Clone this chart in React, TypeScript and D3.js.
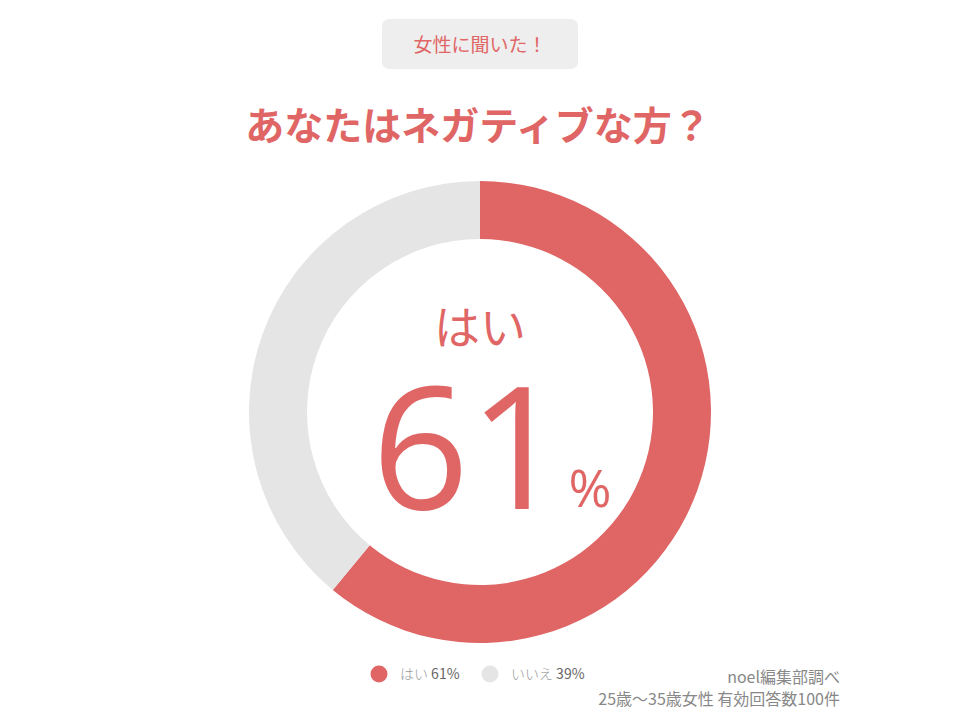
import React, { useEffect, useRef } from 'react';
import * as d3 from 'd3';

const categories = ['はい', 'いいえ'];
const values = [61, 39];
const colors = ['#e06666', '#e5e5e5'];
const badgeText = '女性に聞いた！';
const titleText = 'あなたはネガティブな方？';
const sourceLines = ['noel編集部調べ', '25歳〜35歳女性 有効回答数100件'];

const FONT = '"Noto Sans CJK JP", "Noto Sans", sans-serif';

const App: React.FC = () => {
    const svgRef = useRef<SVGSVGElement>(null);

    useEffect(() => {
        if (!svgRef.current) return;
        const svg = d3.select(svgRef.current);
        svg.selectAll('*').remove();

        const width = 960;
        const cx = 480, cy = 412;
        const outerR = 231, innerR = 173;
        const red = colors[0];

        svg.append('rect').attr('width', width).attr('height', 720).attr('fill', '#fff');

        // Badge
        svg.append('rect')
            .attr('x', 382).attr('y', 19)
            .attr('width', 196).attr('height', 50)
            .attr('rx', 7)
            .attr('fill', '#eeeeee');
        svg.append('text')
            .attr('x', cx).attr('y', 52)
            .attr('text-anchor', 'middle')
            .attr('fill', red)
            .style('font-family', FONT)
            .style('font-size', '19px')
            .text(badgeText);

        // Title
        svg.append('text')
            .attr('x', cx - 2).attr('y', 140)
            .attr('text-anchor', 'middle')
            .attr('fill', red)
            .style('font-family', FONT)
            .style('font-size', '39px')
            .style('font-weight', 'bold')
            .text(titleText);

        // Donut
        const pie = d3.pie<number>().sort(null).value(d => d);
        const arc = d3.arc<d3.PieArcDatum<number>>().innerRadius(innerR).outerRadius(outerR);
        const g = svg.append('g').attr('transform', `translate(${cx},${cy})`);
        g.selectAll('path')
            .data(pie(values))
            .enter()
            .append('path')
            .attr('d', arc)
            .attr('fill', (_, i) => colors[i]);

        // Center labels
        g.append('text')
            .attr('x', 0).attr('y', -68)
            .attr('text-anchor', 'middle')
            .attr('fill', red)
            .style('font-family', FONT)
            .style('font-size', '46px')
            .text(categories[0]);

        g.append('text')
            .attr('x', -11).attr('y', 97)
            .attr('text-anchor', 'middle')
            .attr('fill', red)
            .style('font-family', '"Open Sans", "Noto Sans", sans-serif')
            .style('font-size', '170px')
            .text(String(values[0]));

        g.append('text')
            .attr('x', 110).attr('y', 95)
            .attr('text-anchor', 'middle')
            .attr('fill', red)
            .style('font-family', '"Open Sans", "Noto Sans", sans-serif')
            .style('font-size', '52px')
            .text('%');

        // Legend
        const legendX = [379, 490];
        categories.forEach((c, i) => {
            const lg = svg.append('g').attr('transform', `translate(${legendX[i]},674)`);
            lg.append('circle').attr('r', 8.5).attr('fill', colors[i]);
            const t = lg.append('text')
                .attr('x', 21).attr('y', 5)
                .style('font-family', FONT)
                .style('font-size', '14px');
            t.append('tspan').attr('fill', '#999').style('font-weight', 300).text(c + ' ');
            t.append('tspan').attr('fill', '#666').text(`${values[i]}%`);
        });

        // Source
        sourceLines.forEach((s, i) => {
            svg.append('text')
                .attr('x', 840).attr('y', 683 + i * 22)
                .attr('text-anchor', 'end')
                .attr('fill', '#888')
                .style('font-family', FONT)
                .style('font-size', '16px')
                .text(s);
        });
    }, []);

    return <svg ref={svgRef} width={960} height={720} style={{ display: 'block', margin: '-8px' }} />;
};

export default App;
